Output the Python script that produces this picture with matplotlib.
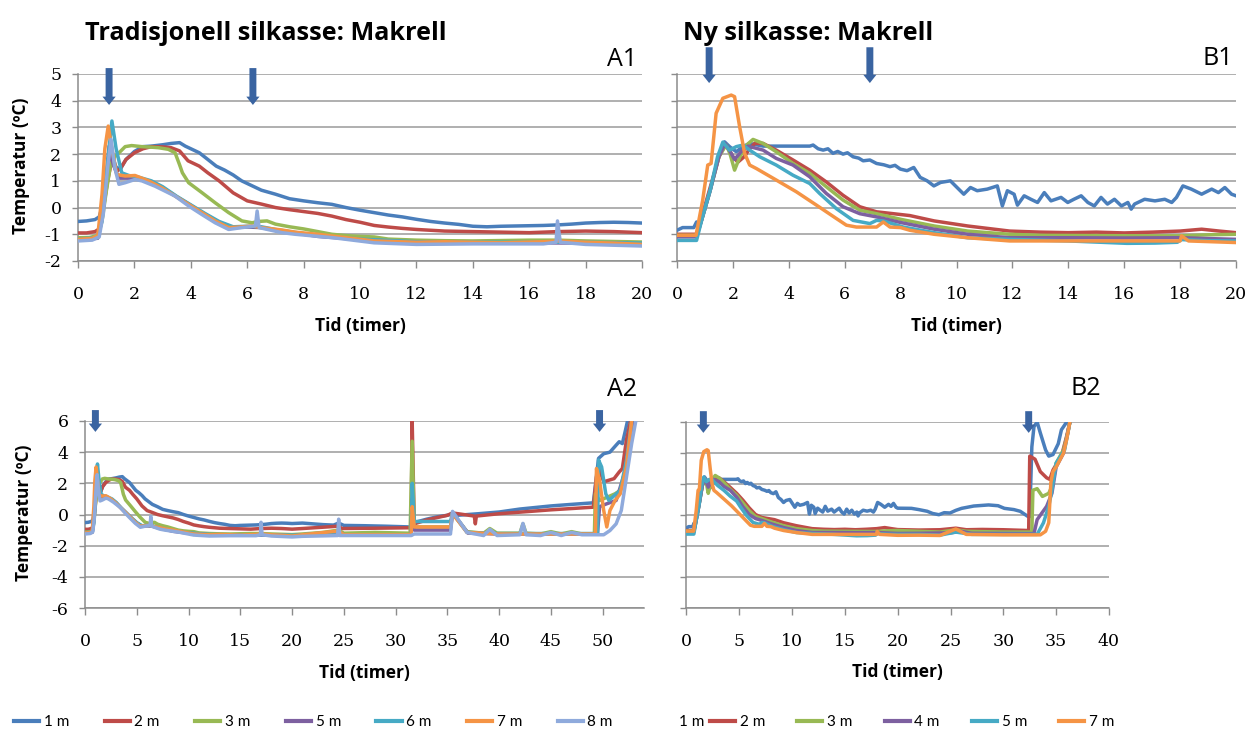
import matplotlib
matplotlib.use("Agg")
import matplotlib.pyplot as plt
from matplotlib.lines import Line2D

# ---------------- data ----------------
# Panel A1 / A2 (Tradisjonell silkasse), time in hours, temperature in ºC
a_labels = ["1 m", "2 m", "3 m", "5 m", "6 m", "7 m", "8 m"]
b_labels = ["1 m", "2 m", "3 m", "4 m", "5 m", "7 m"]

a1_1m = [(0, -0.52), (0.3, -0.5), (0.6, -0.45), (0.75, -0.35), (0.9, 0.2), (1.05, 1.2), (1.2, 2.0),
         (1.35, 1.5), (1.5, 1.45), (1.7, 1.8), (2.0, 2.1), (2.3, 2.28), (2.6, 2.3), (3.0, 2.35),
         (3.3, 2.4), (3.6, 2.43), (3.8, 2.3), (4.0, 2.2), (4.3, 2.05), (4.6, 1.8), (4.9, 1.55),
         (5.2, 1.4), (5.5, 1.22), (5.8, 1.0), (6.1, 0.85), (6.5, 0.65), (7.0, 0.5), (7.5, 0.33),
         (8.0, 0.25), (8.5, 0.18), (9.0, 0.12), (9.5, 0.0), (10.0, -0.1), (10.5, -0.19), (11.0, -0.28),
         (11.5, -0.35), (12.0, -0.44), (12.5, -0.52), (13.0, -0.58), (13.5, -0.63), (14.0, -0.7),
         (14.5, -0.72), (15.0, -0.7), (15.5, -0.69), (16.0, -0.68), (16.5, -0.67), (17.0, -0.65),
         (17.5, -0.62), (18.0, -0.58), (18.5, -0.56), (19.0, -0.55), (19.5, -0.56), (20.0, -0.58)]
a1_2m = [(0, -0.95), (0.3, -0.95), (0.6, -0.9), (0.75, -0.8), (0.9, 0.0), (1.05, 1.0), (1.2, 1.8),
         (1.35, 1.35), (1.5, 1.45), (1.7, 1.8), (2.0, 2.05), (2.3, 2.2), (2.6, 2.28), (3.0, 2.27),
         (3.3, 2.24), (3.6, 2.12), (3.9, 1.75), (4.3, 1.55), (4.6, 1.3), (5.0, 1.0), (5.5, 0.55),
         (6.0, 0.25), (6.5, 0.13), (7.0, 0.0), (7.5, -0.08), (8.0, -0.15), (8.5, -0.22), (9.0, -0.32),
         (9.5, -0.45), (10.0, -0.55), (10.5, -0.67), (11.0, -0.73), (11.5, -0.78), (12.0, -0.82),
         (13.0, -0.88), (14.0, -0.9), (15.0, -0.92), (16.0, -0.94), (17.0, -0.9), (18.0, -0.88),
         (19.0, -0.9), (20.0, -0.94)]
a1_3m = [(0, -1.13), (0.4, -1.12), (0.7, -1.05), (0.85, -0.5), (1.0, 0.6), (1.15, 1.6), (1.3, 1.9),
         (1.5, 2.1), (1.67, 2.28), (1.9, 2.32), (2.26, 2.28), (2.6, 2.26), (2.85, 2.24), (3.2, 2.18),
         (3.44, 2.05), (3.6, 1.6), (3.7, 1.3), (3.92, 0.93), (4.39, 0.56), (4.86, 0.18), (5.34, -0.19),
         (5.81, -0.5), (6.17, -0.57), (6.4, -0.52), (6.7, -0.5), (7.0, -0.62), (7.5, -0.72),
         (8.0, -0.8), (8.5, -0.9), (9.0, -1.0), (9.5, -1.05), (10.0, -1.08), (10.5, -1.1),
         (11.0, -1.18), (12.0, -1.22), (13.0, -1.24), (14.0, -1.25), (16.0, -1.22), (17.0, -1.22),
         (18.0, -1.25), (19.0, -1.27), (20.0, -1.29)]
a1_5m = [(0, -1.2), (0.7, -1.15), (0.9, 0.0), (1.1, 2.3), (1.25, 1.6), (1.45, 1.1), (1.8, 1.1),
         (2.1, 1.08), (2.6, 0.95), (3.0, 0.75), (3.5, 0.4), (4.0, 0.08), (4.5, -0.25), (5.0, -0.55),
         (5.5, -0.75), (6.0, -0.73), (6.5, -0.75), (7.0, -0.85), (7.5, -0.92), (8.5, -1.08),
         (10.0, -1.2), (12.0, -1.3), (14.0, -1.33), (16.0, -1.32), (18.0, -1.33), (20.0, -1.36)]
a1_6m = [(0, -1.18), (0.7, -1.12), (0.85, -0.5), (1.0, 1.2), (1.2, 3.24), (1.35, 2.2), (1.55, 1.3),
         (1.8, 1.2), (2.1, 1.15), (2.6, 1.0), (3.0, 0.78), (3.5, 0.42), (4.0, 0.1), (4.5, -0.22),
         (5.0, -0.52), (5.5, -0.72), (6.0, -0.7), (6.5, -0.72), (7.0, -0.82), (7.5, -0.9),
         (8.5, -1.05), (10.0, -1.18), (12.0, -1.28), (14.0, -1.3), (16.0, -1.3), (18.0, -1.3),
         (20.0, -1.33)]
a1_7m = [(0, -1.19), (0.5, -1.15), (0.7, -1.05), (0.85, 0.5), (0.95, 2.2), (1.07, 3.05), (1.2, 2.2),
         (1.37, 1.24), (1.67, 1.18), (2.02, 1.2), (2.5, 1.0), (2.97, 0.74), (3.44, 0.43), (3.92, 0.12),
         (4.39, -0.19), (4.86, -0.5), (5.34, -0.75), (5.7, -0.73), (6.17, -0.69), (6.5, -0.75),
         (7.23, -0.84), (7.7, -0.92), (8.5, -1.0), (9.05, -1.07), (10.5, -1.25), (12.0, -1.3),
         (13.0, -1.28), (14.0, -1.3), (15.0, -1.32), (16.5, -1.28), (17.0, -1.25), (18.0, -1.3),
         (19.0, -1.33), (20.0, -1.38)]
a1_8m = [(0, -1.25), (0.5, -1.22), (0.75, -1.1), (0.9, -0.2), (1.05, 1.5), (1.17, 2.55), (1.3, 1.5),
         (1.45, 0.87), (1.67, 0.93), (2.02, 1.05), (2.26, 1.0), (2.73, 0.8), (3.44, 0.43), (3.92, 0.06),
         (4.39, -0.26), (4.86, -0.57), (5.34, -0.82), (5.81, -0.75), (6.29, -0.69), (6.35, -0.13),
         (6.42, -0.75), (7.23, -0.94), (7.7, -1.0), (9.05, -1.13), (10.5, -1.32), (12.0, -1.38),
         (14.0, -1.36), (16.5, -1.36), (16.95, -1.3), (17.0, -0.5), (17.1, -1.3), (18.0, -1.38),
         (20.0, -1.44)]

# A2 continuation after 20 h
a2_1m = [(21, -0.55), (22, -0.6), (23, -0.65), (24, -0.68), (24.5, -0.55), (25, -0.7), (27, -0.72),
         (29, -0.75), (31.5, -0.8), (31.8, -0.6), (32, -0.48), (33, -0.3), (34, -0.15), (35, -0.05),
         (35.5, 0.05), (36, -0.05), (38, 0.05), (40, 0.16), (42, 0.35), (45, 0.55), (47, 0.65),
         (49.1, 0.75), (49.6, 3.6), (50.1, 3.9), (50.7, 4.0), (51.3, 4.45), (51.6, 4.67), (51.9, 4.55),
         (52.2, 5.4), (52.4, 6.0)]
a2_2m = [(21, -0.9), (24.5, -0.75), (24.8, -0.9), (28, -0.88), (31.5, -0.85), (31.6, 6.0), (31.8, -0.6),
         (33, -0.35), (35, -0.05), (35.5, 0.1), (37.6, -0.1), (37.7, -0.6), (37.8, -0.1), (40, 0.05),
         (42, 0.15), (45, 0.3), (49.1, 0.47), (49.4, 2.4), (49.7, 2.84), (50.1, 2.1), (50.6, 2.2),
         (51.1, 2.3), (51.6, 2.73), (51.9, 2.95), (52.3, 4.8), (52.7, 6.0)]
a2_3m = [(21, -1.25), (23, -1.15), (24.5, -1.0), (25, -1.2), (28, -1.15), (31.4, -1.2), (31.6, 4.7),
         (31.8, -0.8), (35.3, -0.8), (35.5, 0.1), (36.9, -1.1), (38.5, -1.2), (39.1, -0.9), (39.8, -1.2),
         (42.0, -1.2), (42.3, -0.6), (42.6, -1.2), (44, -1.25), (45, -1.1), (46, -1.25), (47, -1.1),
         (48, -1.25), (49.2, -1.25), (49.3, 1.33), (49.7, 0.9), (50.4, 1.1), (51.2, 1.33), (51.7, 1.55),
         (52.1, 2.4), (52.6, 4.1), (52.9, 6.0)]
a2_5m = [(21, -1.33), (24.5, -1.1), (25, -1.3), (31.5, -1.3), (31.6, 1.0), (31.8, -1.0), (35.3, -1.0),
         (35.5, 0.1), (37, -1.2), (40, -1.25), (45, -1.25), (49.5, -1.25), (49.7, 0.5), (50.4, 0.69),
         (51.3, 0.9), (52.3, 3.05), (53.0, 6.0)]
a2_6m = [(21, -1.3), (24.5, -1.1), (25, -1.3), (31.5, -1.3), (31.6, 2.0), (31.8, -0.45), (35.3, -0.45),
         (35.5, 0.1), (36.9, -1.15), (40, -1.22), (45, -1.22), (49.5, -1.22), (49.6, 3.5), (49.9, 3.05),
         (50.3, 1.33), (50.6, 0.9), (51.1, 1.2), (51.7, 1.55), (52.3, 3.5), (52.8, 6.0)]
a2_7m = [(21, -1.3), (24.5, -1.05), (25, -1.3), (31.5, -1.3), (31.6, 0.5), (31.8, -0.8), (35.3, -0.8),
         (35.5, 0.05), (36.9, -1.15), (40, -1.25), (45, -1.25), (49.3, -1.25), (49.4, 2.95), (49.7, 2.2),
         (50.1, 0.26), (50.4, -0.8), (50.7, 0.26), (51.2, 0.9), (51.7, 1.33), (52.3, 3.05), (52.8, 6.0)]
a2_8m = [(21, -1.4), (24.4, -1.35), (24.5, -0.3), (24.6, -1.35), (31.5, -1.35), (31.8, -1.25),
         (35.3, -1.25), (35.5, 0.2), (36.9, -1.15), (38.5, -1.35), (39.1, -0.95), (39.8, -1.35),
         (42.0, -1.3), (42.3, -0.57), (42.6, -1.3), (44, -1.35), (45, -1.15), (46, -1.35), (47, -1.15),
         (48, -1.3), (50.1, -1.3), (50.7, -1.03), (51.3, -0.6), (51.8, 0.26), (52.3, 2.4), (52.8, 4.55),
         (53.2, 6.0)]

# Panel B1 / B2 (Ny silkasse)
b1_1m = [(0, -0.85), (0.2, -0.75), (0.6, -0.75), (0.7, -0.54), (0.8, -0.75), (1.16, 0.53), (1.52, 2.03),
         (1.7, 2.46), (1.88, 2.28), (2.12, 2.09), (2.36, 2.28), (2.6, 2.4), (3.08, 2.3), (3.55, 2.3),
         (4.75, 2.3), (4.87, 2.34), (5.05, 2.2), (5.23, 2.15), (5.4, 2.2), (5.58, 2.03), (5.75, 2.1),
         (5.94, 2.0), (6.1, 2.05), (6.3, 1.9), (6.5, 1.85), (6.66, 1.75), (6.9, 1.78), (7.14, 1.65),
         (7.4, 1.6), (7.62, 1.53), (7.8, 1.58), (7.99, 1.44), (8.23, 1.38), (8.47, 1.5), (8.7, 1.13),
         (8.95, 1.0), (9.19, 0.81), (9.43, 0.94), (9.78, 1.0), (10.02, 0.75), (10.26, 0.5), (10.5, 0.75),
         (10.74, 0.63), (11.1, 0.69), (11.46, 0.81), (11.64, 0.06), (11.82, 0.63), (12.06, 0.5),
         (12.18, 0.09), (12.42, 0.44), (12.66, 0.31), (12.9, 0.19), (13.14, 0.56), (13.38, 0.25),
         (13.74, 0.38), (13.98, 0.19), (14.2, 0.31), (14.46, 0.44), (14.7, 0.19), (14.93, 0.06),
         (15.17, 0.38), (15.4, 0.13), (15.65, 0.31), (15.9, 0.06), (16.13, 0.19), (16.25, -0.06),
         (16.37, 0.13), (16.73, 0.31), (17.1, 0.25), (17.45, 0.31), (17.7, 0.19), (17.87, 0.38),
         (18.1, 0.81), (18.4, 0.69), (18.77, 0.5), (19.13, 0.69), (19.37, 0.56), (19.6, 0.75),
         (19.84, 0.5), (20.0, 0.44)]
b1_2m = [(0, -1.0), (0.7, -1.0), (0.9, -0.3), (1.2, 0.8), (1.5, 1.9), (1.7, 2.3), (1.85, 2.2), (2.0, 1.9),
         (2.18, 1.7), (2.4, 1.9), (2.6, 2.2), (2.78, 2.4), (3.08, 2.4), (3.55, 2.15), (4.15, 1.78),
         (4.75, 1.4), (5.34, 0.96), (5.94, 0.46), (6.54, 0.03), (7.14, -0.16), (7.74, -0.23),
         (8.33, -0.3), (9.2, -0.5), (10.4, -0.69), (11.9, -0.88), (13.0, -0.92), (14.0, -0.94),
         (15.0, -0.92), (16.0, -0.95), (17.0, -0.92), (18.0, -0.88), (18.77, -0.81), (19.4, -0.88),
         (20.0, -0.94)]
b1_3m = [(0, -1.04), (0.7, -1.04), (0.9, -0.4), (1.2, 0.7), (1.5, 1.9), (1.76, 2.35), (1.9, 2.0),
         (2.06, 1.4), (2.25, 1.9), (2.5, 2.35), (2.72, 2.55), (3.08, 2.4), (3.55, 2.09), (4.15, 1.65),
         (4.75, 1.28), (5.34, 0.78), (5.94, 0.28), (6.54, -0.1), (7.14, -0.23), (8.0, -0.44),
         (9.2, -0.69), (10.4, -0.88), (11.9, -1.0), (13.0, -1.04), (15.0, -1.05), (17.0, -1.06),
         (18.0, -1.06), (19.0, -1.02), (20.0, -1.0)]
b1_4m = [(0, -1.1), (0.7, -1.1), (0.9, -0.4), (1.2, 0.7), (1.5, 1.9), (1.72, 2.4), (1.9, 2.1), (2.06, 1.8),
         (2.3, 2.1), (2.54, 2.3), (3.08, 2.15), (3.55, 1.84), (4.15, 1.59), (4.75, 1.15), (5.34, 0.53),
         (5.94, 0.03), (6.54, -0.23), (7.14, -0.35), (8.0, -0.56), (9.2, -0.81), (10.4, -1.0),
         (11.9, -1.13), (14.0, -1.13), (16.0, -1.14), (18.0, -1.13), (19.0, -1.16), (20.0, -1.19)]
b1_5m = [(0, -1.23), (0.7, -1.23), (0.9, -0.4), (1.2, 0.7), (1.45, 1.9), (1.64, 2.45), (1.88, 2.15),
         (2.12, 2.28), (2.36, 2.34), (2.6, 2.15), (2.96, 1.9), (3.55, 1.59), (4.15, 1.21), (4.75, 0.9),
         (5.1, 0.53), (5.7, -0.04), (6.3, -0.48), (6.9, -0.6), (7.14, -0.48), (7.38, -0.5), (8.1, -0.73),
         (9.2, -0.94), (10.4, -1.13), (11.9, -1.19), (14.0, -1.25), (16.1, -1.34), (17.1, -1.33),
         (17.9, -1.3), (18.05, -1.2), (19.0, -1.24), (20.0, -1.25)]
b1_7m = [(0, -1.04), (0.68, -1.04), (0.92, 0.28), (1.1, 1.59), (1.22, 1.65), (1.4, 3.53), (1.64, 4.09),
         (1.94, 4.21), (2.06, 4.15), (2.24, 3.03), (2.42, 2.03), (2.6, 1.59), (2.84, 1.46), (3.55, 1.03),
         (4.27, 0.59), (4.99, 0.09), (5.7, -0.41), (6.06, -0.66), (6.42, -0.73), (7.14, -0.73),
         (7.38, -0.54), (7.62, -0.73), (8.0, -0.75), (8.33, -0.85), (9.2, -1.0), (10.4, -1.13),
         (11.9, -1.25), (14.0, -1.25), (16.4, -1.25), (18.0, -1.25), (18.05, -1.06), (18.3, -1.25),
         (20.0, -1.31)]

# B2 continuation after 20 h
b2_1m = [(21.3, 0.43), (22.0, 0.35), (22.8, 0.24), (23.3, 0.1), (23.9, 0.02), (24.4, 0.15), (24.95, 0.13),
         (25.5, 0.3), (26.05, 0.43), (27.2, 0.58), (28.6, 0.65), (29.5, 0.6), (30.1, 0.43), (31.0, 0.35),
         (31.6, 0.24), (32.3, -0.08), (32.5, -0.1), (32.7, 4.4), (32.9, 5.7), (33.2, 6.0), (33.5, 5.3),
         (34.0, 4.2), (34.3, 3.8), (34.7, 3.9), (35.2, 4.6), (35.5, 5.5), (36.0, 6.0)]
b2_2m = [(22, -0.97), (24, -0.95), (25.5, -0.85), (26.5, -0.95), (28, -0.93), (30, -0.95), (32.4, -1.0),
         (32.5, 3.8), (33.0, 3.6), (33.5, 2.8), (34.1, 2.4), (34.4, 2.3), (34.7, 2.9), (35.0, 3.25),
         (35.5, 3.8), (36.0, 5.1), (36.3, 6.0)]
b2_3m = [(22, -1.05), (24, -1.1), (25.5, -0.95), (26.5, -1.05), (30, -1.1), (32.7, -1.1), (32.8, 1.6),
         (33.2, 1.7), (33.7, 1.2), (34.3, 1.4), (34.6, 1.85), (35.0, 3.35), (35.7, 4.2), (36.1, 5.3),
         (36.3, 6.0)]
b2_4m = [(22, -1.18), (25, -1.15), (26, -1.05), (27, -1.18), (32.9, -1.2), (33.2, -0.3), (34.1, 0.56),
         (34.6, 1.4), (35.0, 3.1), (35.7, 4.0), (36.1, 5.3), (36.3, 6.0)]
b2_5m = [(22, -1.25), (24, -1.3), (25.5, -1.1), (27, -1.25), (33.2, -1.25), (33.8, -0.5), (34.3, 0.56),
         (34.6, 1.6), (35.0, 3.35), (35.8, 4.2), (36.3, 6.0)]
b2_7m = [(22, -1.3), (24, -1.32), (25.5, -0.9), (26.5, -1.25), (30, -1.28), (33.5, -1.28), (34.0, -1.05),
         (34.3, -0.5), (34.5, 2.1), (34.7, 2.8), (35.0, 3.1), (35.7, 4.0), (36.0, 4.9), (36.3, 6.0)]

# arrow x-positions (hours) marking events
a1_arrows = [1.1, 6.2]
b1_arrows = [1.15, 6.9]
a2_arrows = [1.0, 49.7]
b2_arrows = [1.6, 32.4]

a_colors = ["#4A7EBB", "#BE4B48", "#98B954", "#7D60A0", "#46AAC5", "#F59445", "#8FAADC"]
b_colors = ["#4A7EBB", "#BE4B48", "#98B954", "#7D60A0", "#46AAC5", "#F59445"]

a1_series = [a1_1m, a1_2m, a1_3m, a1_5m, a1_6m, a1_7m, a1_8m]
a2_series = [a2_1m, a2_2m, a2_3m, a2_5m, a2_6m, a2_7m, a2_8m]
b1_series = [b1_1m, b1_2m, b1_3m, b1_4m, b1_5m, b1_7m]
b2_series = [b2_1m, b2_2m, b2_3m, b2_4m, b2_5m, b2_7m]

# ---------------- drawing ----------------
GRID = "#9a9a9a"
AXC = "#8c8c8c"
ARROW = "#3A64A1"
TICKFONT = "DejaVu Serif"
SANS = "Open Sans"
LEGFONT = "Lato"
LW = 2.5

fig = plt.figure(figsize=(12.47, 7.36), dpi=100)

ax_a1 = fig.add_axes([0.0626, 0.6454, 0.4523, 0.2541])
ax_b1 = fig.add_axes([0.5429, 0.6454, 0.4483, 0.2541])
ax_a2 = fig.add_axes([0.0682, 0.1739, 0.4483, 0.2541])
ax_b2 = fig.add_axes([0.5505, 0.1739, 0.3388, 0.2527])


def style(ax, xlim, xticks, ylim, yticks, ylabels, show_ylabel, ylab_x):
    ax.set_xlim(*xlim)
    ax.set_ylim(*ylim)
    ax.set_xticks(xticks)
    ax.set_yticks(yticks)
    ax.grid(axis="y", color=GRID, lw=1.1)
    ax.set_axisbelow(True)
    for s in ("top", "right"):
        ax.spines[s].set_visible(False)
    for s in ("left", "bottom"):
        ax.spines[s].set_color(AXC)
        ax.spines[s].set_linewidth(1.1)
    ax.tick_params(axis="x", direction="out", length=5, width=1, color=AXC, pad=13)
    ax.tick_params(axis="y", direction="out", length=4, width=1, color=AXC, pad=8)
    ax.set_xticklabels([str(x) for x in xticks], fontfamily=TICKFONT, fontsize=12.5)
    if ylabels:
        ax.set_yticklabels([str(y) for y in yticks], fontfamily=TICKFONT, fontsize=12.5)
    else:
        ax.set_yticklabels([])
    ax.set_xlabel("Tid (timer)", fontfamily=SANS, fontweight="bold", fontsize=12.5, va="center")
    ax.xaxis.set_label_coords(0.5, -0.345)
    if show_ylabel:
        ax.set_ylabel("Temperatur (ºC)", fontfamily=SANS, fontweight="bold", fontsize=12.5, va="center")
        ax.yaxis.set_label_coords(ylab_x, 0.51)


def draw(ax, series_list, colors, extra=None):
    for i, (ser, c) in enumerate(zip(series_list, colors)):
        pts = list(ser) + (list(extra[i]) if extra else [])
        t, v = zip(*pts)
        ax.plot(t, v, color=c, lw=LW, solid_joinstyle="round", zorder=3 + i)


def arrows(ax, xs, top, tip):
    for x in xs:
        ax.annotate("", xy=(x, tip), xytext=(x, top), xycoords="data",
                    arrowprops=dict(arrowstyle="simple,head_width=0.95,head_length=0.6,tail_width=0.5",
                                    color=ARROW, shrinkA=0, shrinkB=0, lw=0),
                    annotation_clip=False, zorder=20)


draw(ax_a1, a1_series, a_colors)
draw(ax_a2, a1_series, a_colors, a2_series)
draw(ax_b1, b1_series, b_colors)
draw(ax_b2, b1_series, b_colors, b2_series)

style(ax_a1, (0, 20), list(range(0, 21, 2)), (-2, 5), list(range(-2, 6)), True, True, -0.102)
style(ax_b1, (0, 20), list(range(0, 21, 2)), (-2, 5), list(range(-2, 6)), False, False, 0)
style(ax_a2, (0, 54), list(range(0, 51, 5)), (-6, 6), list(range(-6, 7, 2)), True, True, -0.11)
style(ax_b2, (0, 40), list(range(0, 41, 5)), (-6, 6), list(range(-6, 7, 2)), False, False, 0)

arrows(ax_a1, a1_arrows, 5.22, 3.84)
arrows(ax_b1, b1_arrows, 6.0, 4.66)
arrows(ax_a2, a2_arrows, 6.7, 5.3)
arrows(ax_b2, b2_arrows, 6.7, 5.3)

# titles and panel letters
fig.text(85 / 1247, 1 - 40 / 736, "Tradisjonell silkasse: Makrell", fontfamily=SANS, fontweight="bold",
         fontsize=18.2, ha="left", va="baseline")
fig.text(683 / 1247, 1 - 40 / 736, "Ny silkasse: Makrell", fontfamily=SANS, fontweight="bold",
         fontsize=18.2, ha="left", va="baseline")
fig.text(637 / 1247, 1 - 66 / 736, "A1", fontfamily=SANS, fontsize=18, ha="right", va="baseline")
fig.text(1233 / 1247, 1 - 65 / 736, "B1", fontfamily=SANS, fontsize=18, ha="right", va="baseline")
fig.text(637 / 1247, 1 - 396 / 736, "A2", fontfamily=SANS, fontsize=18, ha="right", va="baseline")
fig.text(1101 / 1247, 1 - 395 / 736, "B2", fontfamily=SANS, fontsize=18, ha="right", va="baseline")

# legends
a_handles = [Line2D([], [], color=c, lw=3) for c in a_colors]
b_handles = [Line2D([], [], color=c, lw=3) for c in b_colors[1:]]
leg_kw = dict(frameon=False, handlelength=1.65, handletextpad=0.3,
              borderpad=0, borderaxespad=0, prop={"family": LEGFONT, "size": 11})
fig.legend(a_handles, a_labels, loc="center left", bbox_to_anchor=(14 / 1247, 1 - 722 / 736),
           ncol=7, columnspacing=2.32, **leg_kw)
fig.legend(b_handles, b_labels[1:], loc="center left", bbox_to_anchor=(710 / 1247, 1 - 722 / 736),
           ncol=5, columnspacing=2.1, **leg_kw)
# first entry of the B legend is shown without a line sample
fig.text(679 / 1247, 1 - 722 / 736, b_labels[0], fontfamily=LEGFONT, fontsize=11, ha="left", va="center")

fig.savefig("out.png", dpi=100)
